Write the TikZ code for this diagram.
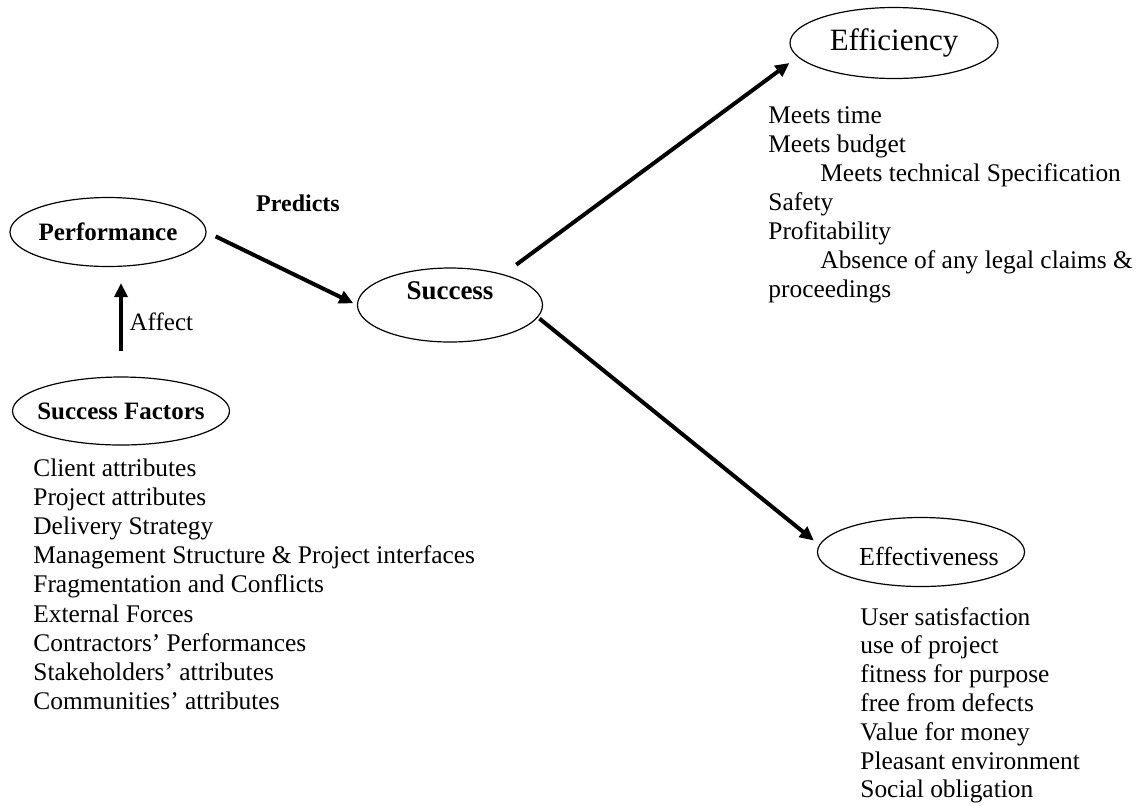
\documentclass[tikz,border=0pt]{standalone}
\usepackage{fontspec}
\setmainfont{Liberation Serif}
\usepackage{tikz}
\usetikzlibrary{arrows.meta, shapes, positioning}

\newcommand{\ovtxt}[1]{\makebox[0pt]{#1}}

\begin{document}
\begin{tikzpicture}[% styles used in image code
          x = 0.5pt, y = -0.5pt,
          > = {Triangle[length=7pt, width=6.5pt]},
 oval/.style = {ellipse, draw, semithick, inner sep=0pt,
                font=\fontsize{12.5}{14}\selectfont},
  arr/.style = {->, line width=2pt},
 item/.style = {anchor=base west, inner sep=0pt,
                font=\fontsize{12.7}{14}\selectfont}
                    ]
	\useasboundingbox (0,0) rectangle (1139,805);

	% ellipses
	\node[oval, minimum width=98pt, minimum height=34.5pt] (perf) at (108,232)
		{\ovtxt{\bfseries Performance}};
	\node[oval, minimum width=108.5pt, minimum height=34pt] (sfac) at (121,411)
		{\ovtxt{\bfseries Success Factors}};
	\node[oval, minimum width=92.5pt, minimum height=37pt,
	      font=\fontsize{13.5}{15}\selectfont\bfseries] (succ) at (450,305)
		{\ovtxt{\raisebox{14pt}{Success}}};
	\node[oval, minimum width=104pt, minimum height=35.5pt,
	      font=\fontsize{15.5}{18}\selectfont] (effic) at (894,43)
		{\ovtxt{Efficiency}};
	\node[oval, minimum width=103.5pt, minimum height=34.5pt,
	      font=\fontsize{13}{14}\selectfont] (effect) at (921,552)
		{\ovtxt{\hspace{8pt}\raisebox{-6.5pt}[0pt][0pt]{Effectiveness}}};

	% arrows
	\draw[arr, shorten <=12.5pt, shorten >=8pt] (sfac.north) -- (sfac.north |- perf.south)
		node[midway, right, font=\fontsize{12.5}{14}\selectfont] (affect) {Affect};
	\draw[arr, shorten <=5pt, shorten >=2pt] (perf.east) -- (succ.west);
	\node[font=\fontsize{12}{14}\selectfont\bfseries] (pred) at (298,203) {Predicts};
	\draw[arr, shorten <=8pt] (succ.30) -- ([yshift=-10pt]effic.west);
	\draw[arr, shorten <=1pt, shorten >=2pt] (succ.-8) -- ([yshift=4.5pt]effect.west);

	% lists
	\foreach \txt [count=\i from 0] in {Client attributes, Project attributes,
		Delivery Strategy, Management Structure \& Project interfaces,
		Fragmentation and Conflicts, External Forces, Contractors' Performances,
		Stakeholders' attributes, Communities' attributes}
		\node[item] (fac\i) at (33,{476+29.2*\i}) {\txt};

	\foreach \dx/\txt [count=\i from 0] in {0/Meets time, 0/Meets budget,
		52/Meets technical Specification, 0/Safety, 0/Profitability,
		52/Absence of any legal claims \&, 0/proceedings}
		\node[item] (ei\i) at ({768+\dx},{123+29*\i}) {\txt};

	\foreach \txt [count=\i from 0] in {User satisfaction, use of project,
		fitness for purpose, free from defects, Value for money,
		Pleasant environment, Social obligation}
		\node[item] (ef\i) at (860,{625+28.8*\i}) {\txt};
\end{tikzpicture}
\end{document}
